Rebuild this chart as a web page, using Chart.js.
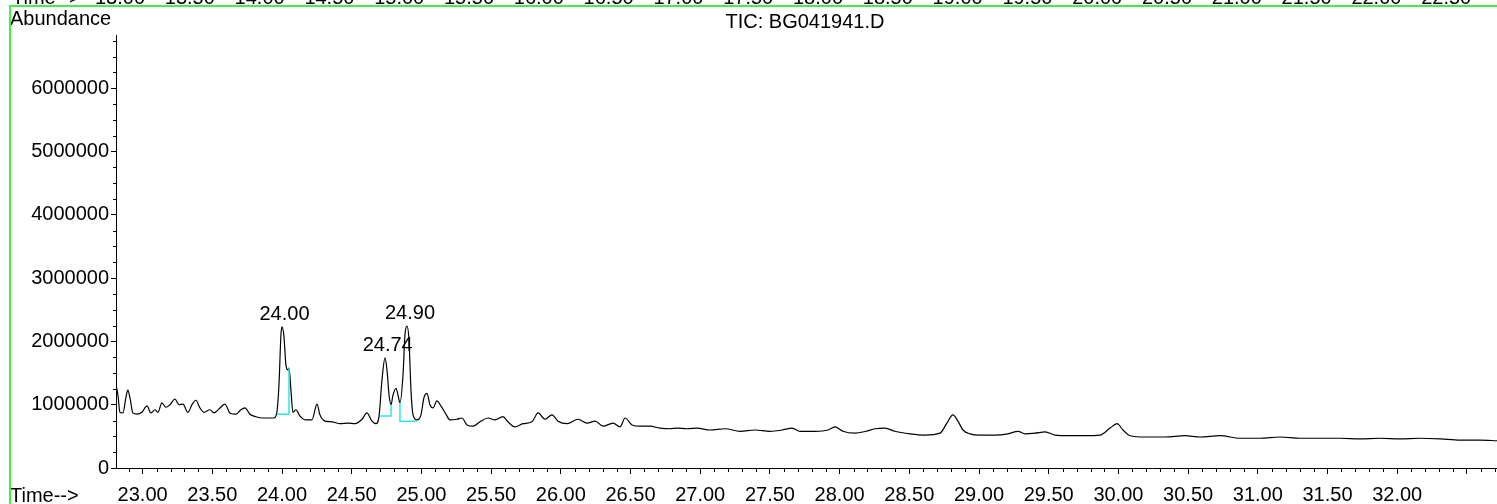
<!DOCTYPE html>
<html>
<head>
<meta charset="utf-8">
<script src="https://cdn.jsdelivr.net/npm/chart.js@4.4.0/dist/chart.umd.min.js"></script>
<style>
html, body { margin: 0; padding: 0; background: #fff; }
#wrap { width: 1497px; height: 504px; position: relative; }
</style>
</head>
<body>
<div id="wrap"><canvas id="tic"></canvas></div>
<script>
// TIC trace (time in min, abundance in counts)
var times = [
  22.809, 22.823, 22.837, 22.859, 22.880, 22.894, 22.909, 22.930, 22.959, 22.995,
  23.031, 23.060, 23.088, 23.110, 23.138, 23.167, 23.196, 23.232, 23.260, 23.289,
  23.325, 23.354, 23.382, 23.411, 23.440, 23.483, 23.511, 23.547, 23.590, 23.626,
  23.669, 23.705, 23.734, 23.770, 23.813, 23.856, 23.899, 23.942, 23.963, 23.978,
  23.992, 23.999, 24.013, 24.028, 24.042, 24.050, 24.064, 24.078, 24.100, 24.129,
  24.172, 24.215, 24.251, 24.272, 24.308, 24.358, 24.416, 24.473, 24.523, 24.574,
  24.609, 24.645, 24.674, 24.696, 24.717, 24.739, 24.753, 24.768, 24.782, 24.796,
  24.818, 24.832, 24.846, 24.868, 24.882, 24.896, 24.911, 24.925, 24.940, 24.968,
  24.997, 25.018, 25.040, 25.061, 25.083, 25.111, 25.140, 25.176, 25.204, 25.255,
  25.291, 25.327, 25.370, 25.420, 25.478, 25.528, 25.585, 25.621, 25.671, 25.729,
  25.793, 25.837, 25.887, 25.937, 25.980, 26.045, 26.124, 26.188, 26.246, 26.303,
  26.375, 26.425, 26.461, 26.511, 26.568, 26.640, 26.711, 26.783, 26.834, 26.906,
  26.977, 27.070, 27.178, 27.286, 27.393, 27.501, 27.587, 27.659, 27.716, 27.824,
  27.917, 27.967, 28.024, 28.110, 28.189, 28.254, 28.325, 28.397, 28.505, 28.612,
  28.720, 28.770, 28.813, 28.849, 28.885, 28.935, 29.007, 29.114, 29.208, 29.280,
  29.330, 29.402, 29.474, 29.545, 29.653, 29.761, 29.868, 29.940, 29.990, 30.033,
  30.083, 30.191, 30.334, 30.478, 30.586, 30.729, 30.873, 31.016, 31.160, 31.303,
  31.447, 31.590, 31.734, 31.877, 32.021, 32.164, 32.308, 32.451, 32.595, 32.717
];
var abundance = [
  1310000, 1150000, 880000, 870000, 1110000, 1230000, 1110000, 870000, 850000, 880000,
  980000, 870000, 920000, 880000, 1030000, 960000, 1000000, 1090000, 1000000, 1010000,
  880000, 1000000, 1070000, 950000, 880000, 920000, 870000, 930000, 1010000, 870000,
  850000, 920000, 950000, 850000, 810000, 790000, 790000, 790000, 880000, 1310000,
  2090000, 2230000, 2100000, 1630000, 1550000, 1580000, 1230000, 880000, 920000, 820000,
  760000, 760000, 1010000, 840000, 740000, 730000, 700000, 710000, 700000, 770000,
  870000, 740000, 700000, 820000, 1390000, 1740000, 1550000, 1150000, 1000000, 1150000,
  1260000, 1150000, 1030000, 1470000, 2100000, 2240000, 2020000, 1230000, 840000, 760000,
  840000, 1110000, 1180000, 1000000, 950000, 1060000, 980000, 850000, 760000, 770000,
  790000, 680000, 660000, 730000, 790000, 760000, 810000, 730000, 650000, 700000,
  730000, 870000, 770000, 840000, 740000, 700000, 770000, 710000, 740000, 660000,
  710000, 650000, 790000, 680000, 660000, 660000, 630000, 620000, 630000, 620000,
  630000, 600000, 620000, 580000, 600000, 580000, 600000, 630000, 580000, 580000,
  600000, 650000, 580000, 550000, 580000, 620000, 630000, 580000, 540000, 520000,
  550000, 710000, 840000, 740000, 600000, 540000, 520000, 520000, 540000, 580000,
  540000, 550000, 570000, 520000, 510000, 510000, 520000, 630000, 700000, 600000,
  510000, 490000, 490000, 510000, 490000, 510000, 470000, 470000, 490000, 470000,
  470000, 470000, 460000, 470000, 460000, 470000, 460000, 440000, 440000, 430000
];

// integration baselines (cyan), null = break between peaks
var baseTimes = [23.963, 24.050, 24.050, 24.050, 24.703, 24.782, 24.782, 24.782, 24.846, 24.846, 24.968];
var baseVals  = [850000, 850000, 1580000, null, 820000, 820000, 1000000, null, 1030000, 740000, 740000];

// peak annotations
var peakLabels  = ['24.00', '24.74', '24.90'];
var peakTimes   = [24.00, 24.74, 24.90];
var peakHeights = [2230000, 1740000, 2240000];

// axis ticks
var xMajor = [];
for (var i = 0; i <= 19; i++) xMajor.push((230 + 5 * i) / 10);
var yMajor = [0, 1000000, 2000000, 3000000, 4000000, 5000000, 6000000];

// tick labels of the chart above, cut off at the top edge
var topTickLabels = ['13.00','13.50','14.00','14.50','15.00','15.50','16.00','16.50','17.00','17.50',
                     '18.00','18.50','19.00','19.50','20.00','20.50','21.00','21.50','22.00','22.50'];

var FONT = 'Liberation Sans, Arial, Helvetica, sans-serif';

var decor = {
  id: 'decor',
  afterDraw: function(chart) {
    var ctx = chart.ctx;
    var xs = chart.scales.x, ys = chart.scales.y;
    var area = chart.chartArea;
    ctx.save();

    // minor ticks
    ctx.strokeStyle = '#000';
    ctx.lineWidth = 1;
    ctx.beginPath();
    for (var k = 229; k <= 327; k++) {
      if (k % 5 === 0) continue;
      var px = Math.round(xs.getPixelForValue(k / 10)) + 0.5;
      ctx.moveTo(px, area.bottom);
      ctx.lineTo(px, area.bottom + 4);
    }
    for (var m = 1; m <= 27; m++) {
      if (m % 4 === 0) continue;
      var py = Math.round(ys.getPixelForValue(m * 250000)) + 0.5;
      ctx.moveTo(area.left, py);
      ctx.lineTo(area.left - 3, py);
    }
    ctx.stroke();

    // peak labels
    ctx.fillStyle = '#000';
    ctx.font = '20px ' + FONT;
    ctx.textAlign = 'center';
    ctx.textBaseline = 'alphabetic';
    for (var p = 0; p < peakLabels.length; p++) {
      var lx = xs.getPixelForValue(peakTimes[p]) + 2.5;
      var ly = ys.getPixelForValue(peakHeights[p]) - 7;
      ctx.fillText(peakLabels[p], lx, ly);
    }

    // titles
    ctx.textAlign = 'left';
    ctx.fillText('Abundance', 10, 25);
    ctx.fillText('Time-->', 10, 502);
    ctx.textAlign = 'center';
    ctx.fillText('TIC: BG041941.D', 805, 28);

    // cut-off axis of the chart above
    ctx.textAlign = 'left';
    ctx.fillText('Time-->', 12, 4);
    ctx.textAlign = 'center';
    for (var t = 0; t < topTickLabels.length; t++) {
      ctx.fillText(topTickLabels[t], 120 + t * 69.8, 4);
    }

    // green frame
    ctx.strokeStyle = '#44ee44';
    ctx.lineWidth = 2;
    ctx.beginPath();
    ctx.moveTo(9, 6);
    ctx.lineTo(1497, 6);
    ctx.stroke();
    ctx.beginPath();
    ctx.moveTo(10, 6);
    ctx.lineTo(10, 504);
    ctx.stroke();
    ctx.restore();
  }
};

var ctx = document.getElementById('tic').getContext('2d');
var chart = new Chart(ctx, {
  type: 'line',
  data: {
    datasets: [{
      label: 'baseline',
      data: baseTimes.map(function(t, i) { return { x: t, y: baseVals[i] }; }),
      borderColor: '#2ee6e6',
      borderWidth: 1.5,
      pointRadius: 0,
      spanGaps: false,
      order: 0
    }, {
      label: 'TIC',
      data: times.map(function(t, i) { return { x: t, y: abundance[i] }; }),
      borderColor: '#000',
      borderWidth: 1.2,
      pointRadius: 0,
      cubicInterpolationMode: 'monotone',
      order: 1
    }]
  },
  options: {
    responsive: true,
    maintainAspectRatio: false,
    animation: false,
    devicePixelRatio: 1,
    layout: { padding: { top: 35, left: 0, right: 0, bottom: 0 } },
    plugins: { legend: { display: false }, tooltip: { enabled: false }, title: { display: false } },
    scales: {
      x: {
        type: 'linear',
        min: 22.809,
        max: 32.716,
        afterBuildTicks: function(s) { s.ticks = xMajor.map(function(v) { return { value: v }; }); },
        afterFit: function(s) { s.height = 36; },
        ticks: {
          autoSkip: false,
          maxRotation: 0,
          padding: 9,
          color: '#000',
          font: { family: FONT, size: 20 },
          callback: function(v) { return v <= 32.2 ? Number(v).toFixed(2) : ''; }
        },
        grid: { drawOnChartArea: false, tickLength: 6, color: '#000' },
        border: { color: '#000', width: 1 }
      },
      y: {
        min: 0,
        max: 6840000,
        afterBuildTicks: function(s) { s.ticks = yMajor.map(function(v) { return { value: v }; }); },
        afterFit: function(s) { s.width = 116; },
        ticks: {
          padding: 2,
          color: '#000',
          font: { family: FONT, size: 20 },
          callback: function(v) { return String(v); }
        },
        grid: { drawOnChartArea: false, tickLength: 5, color: '#000' },
        border: { color: '#000', width: 1 }
      }
    }
  },
  plugins: [decor]
});
</script>
</body>
</html>
